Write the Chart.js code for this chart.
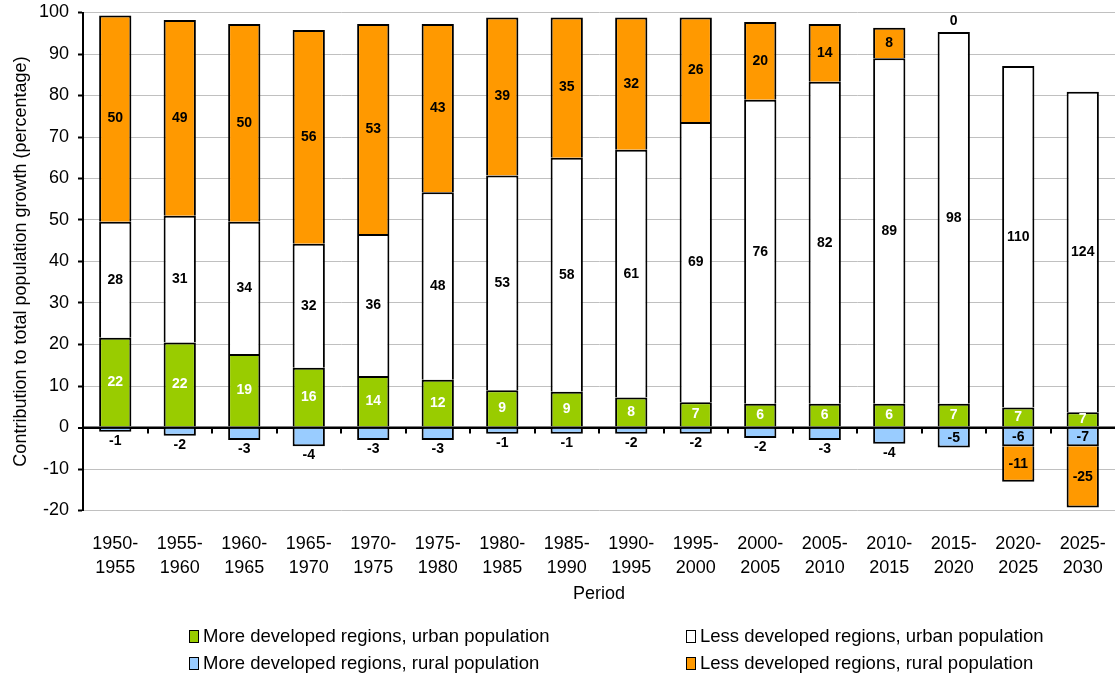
<!DOCTYPE html>
<html>
<head>
<meta charset="utf-8">
<script src="https://cdn.jsdelivr.net/npm/chart.js@4.4.1/dist/chart.umd.min.js"></script>
<style>
  html, body { margin: 0; padding: 0; background: #fff; }
  #wrap { position: relative; width: 1115px; height: 680px; }
  #chart { position: absolute; left: 0; top: 0; }
  .lg { position: absolute; height: 26px; display: flex; align-items: center;
        font-family: "Liberation Sans", Arial, sans-serif; font-size: 18.5px; color: #000; white-space: nowrap; }
  .sw { width: 8px; height: 11px; border: 1.5px solid #000; margin-right: 4px; flex: none; }
</style>
</head>
<body>
<div id="wrap">
  <canvas id="chart" width="1115" height="680"></canvas>
  <div class="lg" style="left:189px; top:623px;"><span class="sw" style="background:#99CC00"></span>More developed regions, urban population</div>
  <div class="lg" style="left:686px; top:623px;"><span class="sw" style="background:#FFFFFF"></span>Less developed regions, urban population</div>
  <div class="lg" style="left:189px; top:650px;"><span class="sw" style="background:#99CCFF"></span>More developed regions, rural population</div>
  <div class="lg" style="left:686px; top:650px;"><span class="sw" style="background:#FF9900"></span>Less developed regions, rural population</div>
</div>
<script>
// ---- Data ----
const periods = ['1950-1955','1955-1960','1960-1965','1965-1970','1970-1975','1975-1980','1980-1985','1985-1990',
                 '1990-1995','1995-2000','2000-2005','2005-2010','2010-2015','2015-2020','2020-2025','2025-2030'];

// bar segment heights as drawn
const moreUrban = [21.6, 20.5, 17.7, 14.4, 12.4, 11.5, 9.0, 8.6, 7.2, 6.1, 5.7, 5.7, 5.7, 5.7, 4.8, 3.7];
const moreRural = [-1.0, -2.0, -3.0, -4.5, -3.0, -3.0, -1.5, -1.5, -1.5, -1.5, -2.5, -3.0, -3.9, -4.8, -4.5, -4.5];
const lessUrban = [28.0, 30.5, 31.9, 29.9, 34.2, 45.2, 51.7, 56.4, 59.7, 67.5, 73.3, 77.6, 83.3, 89.6, 82.3, 77.2];
const lessRural = [49.7, 47.2, 47.6, 51.5, 50.6, 40.5, 38.1, 33.8, 31.9, 25.2, 18.7, 13.9, 7.3, null, -8.6, -14.8];

// value labels as printed on the chart
const moreUrbanLabels = ['22','22','19','16','14','12','9','9','8','7','6','6','6','7','7','7'];
const moreRuralLabels = ['-1','-2','-3','-4','-3','-3','-1','-1','-2','-2','-2','-3','-4','-5','-6','-7'];
const lessUrbanLabels = ['28','31','34','32','36','48','53','58','61','69','76','82','89','98','110','124'];
const lessRuralLabels = ['50','49','50','56','53','43','39','35','32','26','20','14','8','0','-11','-25'];

const yTicks = { min: -20, max: 100, step: 10 };

// ---- Chart ----
const FONT = '"Liberation Sans", Arial, sans-serif';
const BLUE_INSIDE_FROM = 13; // from 2015-2020 on, rural labels sit inside the bar

const labelPlugin = {
  id: 'segLabels',
  afterDatasetsDraw(chart) {
    const ctx = chart.ctx;
    const y0 = chart.scales.y.getPixelForValue(0);
    const area = chart.chartArea;
    ctx.save();
    ctx.strokeStyle = '#000';
    ctx.lineWidth = 2;
    ctx.beginPath();
    ctx.moveTo(area.left, y0);
    ctx.lineTo(area.right, y0);
    const m = chart.getDatasetMeta(0).data;
    for (let i = 0; i < m.length - 1; i++) {
      const bx = Math.round((m[i].x + m[i + 1].x) / 2);
      ctx.moveTo(bx, y0);
      ctx.lineTo(bx, y0 + 6);
    }
    ctx.stroke();

    ctx.font = 'bold 14px ' + FONT;
    ctx.textAlign = 'center';
    ctx.textBaseline = 'middle';
    chart.data.datasets.forEach((ds, di) => {
      const meta = chart.getDatasetMeta(di);
      ds.valueLabels.forEach((txt, i) => {
        if (txt == null || txt === '') return;
        const el = meta.data[i];
        const v = ds.data[i];
        let y;
        if (v == null) {
          const top = chart.getDatasetMeta(2).data[i];
          y = top.y - 11;
        } else if (di === 1 && i < BLUE_INSIDE_FROM) {
          y = el.y + 9;
        } else {
          y = (el.y + el.base) / 2;
        }
        ctx.fillStyle = ds.labelColor;
        ctx.fillText(txt, el.x, y);
      });
    });
    ctx.restore();
  }
};

const mk = (label, data, color, labels, labelColor) => ({
  label, data, backgroundColor: color, borderColor: '#000', borderWidth: 2,
  valueLabels: labels, labelColor,
  barPercentage: 0.5, categoryPercentage: 1.0
});

new Chart(document.getElementById('chart'), {
  type: 'bar',
  data: {
    labels: periods.map(p => { const [a, b] = p.split('-'); return [a + '-', b]; }),
    datasets: [
      mk('More developed regions, urban population', moreUrban, '#99CC00', moreUrbanLabels, '#FFFFFF'),
      mk('More developed regions, rural population', moreRural, '#99CCFF', moreRuralLabels, '#000000'),
      mk('Less developed regions, urban population', lessUrban, '#FFFFFF', lessUrbanLabels, '#000000'),
      mk('Less developed regions, rural population', lessRural, '#FF9900', lessRuralLabels, '#000000')
    ]
  },
  options: {
    responsive: false,
    animation: false,
    layout: { padding: { top: 12.5, right: 0, bottom: 74.5, left: 0 } },
    plugins: { legend: { display: false }, tooltip: { enabled: false } },
    scales: {
      x: {
        stacked: true,
        grid: { display: false, drawTicks: false },
        border: { display: false },
        ticks: { color: '#000', font: { family: FONT, size: 18, lineHeight: 1.32 }, padding: 22, maxRotation: 0, autoSkip: false },
        title: { display: true, text: 'Period', color: '#000', font: { family: FONT, size: 18 }, padding: { top: 4, bottom: 1 } },
        afterFit(s) { s.height = 95; s.paddingLeft = 0; s.paddingRight = 0; }
      },
      y: {
        stacked: true,
        min: yTicks.min, max: yTicks.max,
        ticks: { stepSize: yTicks.step, color: '#000', font: { family: FONT, size: 18 }, padding: 9 },
        grid: {
          color: c => (c.tick && c.tick.value === 0) ? '#000' : '#C0C0C0',
          lineWidth: c => (c.tick && c.tick.value === 0) ? 2 : 1,
          tickColor: '#000', tickLength: 5, tickWidth: 2
        },
        border: { display: true, color: '#000', width: 2 },
        title: { display: true, text: 'Contribution to total population growth (percentage)', color: '#000',
                 font: { family: FONT, size: 18 }, padding: { top: 10, bottom: 0 } },
        afterFit(s) { s.width = 83; s.paddingTop = 0; s.paddingBottom = 0; }
      }
    }
  },
  plugins: [labelPlugin]
});
</script>
</body>
</html>
